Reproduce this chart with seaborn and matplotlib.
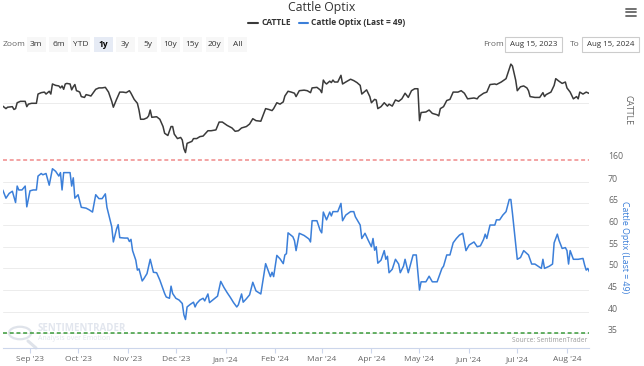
import numpy as np
import pandas as pd
import matplotlib
matplotlib.use("Agg")
import matplotlib.pyplot as plt
from matplotlib.patches import Rectangle, Circle
from matplotlib.lines import Line2D
from matplotlib.transforms import ScaledTranslation
import seaborn as sns

# ---------------- data ----------------
start_date = "2023-08-15"

cattle_day = [
    0, 2, 3, 6, 7, 8, 9, 11, 14, 15,
    16, 18, 21, 22, 24, 26, 27, 29, 30, 31,
    33, 35, 36, 37, 38, 39, 40, 42, 43, 44,
    45, 46, 47, 48, 49, 51, 52, 54, 55, 58,
    60, 62, 64, 66, 68, 69, 70, 71, 73, 75,
    77, 79, 80, 82, 84, 85, 86, 88, 90, 91,
    92, 93, 96, 98, 100, 101, 103, 105, 106, 107,
    109, 111, 112, 113, 114, 115, 118, 119, 121, 123,
    125, 128, 130, 133, 135, 137, 140, 143, 145, 147,
    149, 152, 154, 156, 158, 161, 164, 166, 168, 169,
    171, 173, 175, 176, 178, 180, 182, 183, 185, 188,
    190, 192, 193, 196, 198, 199, 200, 201, 202, 204,
    205, 206, 207, 209, 211, 212, 214, 217, 219, 221,
    223, 224, 227, 229, 230, 232, 233, 234, 236, 238,
    240, 241, 243, 245, 247, 249, 251, 253, 255, 257,
    259, 260, 261, 264, 266, 268, 271, 272, 273, 275,
    277, 279, 281, 284, 286, 288, 290, 294, 296, 297,
    300, 302, 304, 307, 308, 311, 314, 315, 317, 318,
    320, 321, 323, 325, 327, 328, 329, 332, 335, 337,
    338, 339, 342, 344, 345, 347, 349, 351, 352, 354,
    356, 358, 359, 360, 362, 364, 366,
]
cattle_val = [
    179.0, 178.1, 178.6, 178.8, 177.8, 178.1, 180.2, 180.7, 180.7, 178.8,
    179.7, 180.0, 180.0, 183.3, 183.8, 184.0, 183.3, 184.3, 183.3, 186.9,
    186.4, 186.2, 185.5, 186.2, 185.0, 186.9, 187.1, 186.9, 184.8, 185.9,
    186.7, 184.5, 184.3, 184.0, 182.4, 182.1, 183.1, 182.8, 182.6, 185.0,
    185.5, 185.5, 185.7, 184.0, 180.7, 178.6, 180.0, 181.4, 184.0, 184.0,
    183.8, 184.5, 183.6, 181.4, 180.0, 177.6, 174.3, 174.3, 174.8, 175.5,
    177.6, 175.0, 175.2, 174.3, 171.7, 169.3, 168.5, 171.7, 171.7, 169.0,
    167.4, 167.8, 166.9, 163.8, 162.4, 165.7, 166.4, 167.4, 167.4, 168.1,
    168.3, 170.2, 170.2, 170.5, 173.3, 173.3, 172.1, 171.2, 170.0, 170.2,
    171.2, 171.7, 172.6, 174.5, 173.8, 173.6, 178.1, 177.8, 177.4, 178.1,
    180.2, 179.7, 180.5, 182.6, 184.3, 184.0, 183.6, 182.4, 184.5, 184.7,
    184.5, 183.8, 185.5, 185.7, 184.8, 183.8, 188.3, 187.4, 186.9, 187.9,
    187.4, 188.3, 187.6, 187.6, 190.0, 186.9, 187.6, 188.6, 188.1, 187.4,
    186.4, 183.3, 184.8, 182.4, 180.2, 181.4, 181.2, 178.1, 178.8, 180.2,
    179.0, 179.7, 179.0, 181.2, 180.7, 181.6, 183.6, 182.1, 184.5, 185.2,
    185.2, 173.8, 176.7, 176.9, 177.6, 176.4, 175.9, 175.5, 178.1, 178.8,
    181.0, 181.4, 184.0, 184.0, 184.5, 183.6, 181.6, 181.9, 181.6, 182.4,
    183.6, 184.0, 186.7, 186.9, 186.7, 187.6, 188.8, 190.5, 194.0, 193.3,
    188.3, 184.5, 185.9, 186.2, 185.5, 184.5, 182.4, 182.1, 182.1, 183.8,
    182.4, 183.1, 184.0, 186.4, 188.8, 187.9, 187.1, 187.6, 185.5, 184.0,
    181.6, 182.4, 181.6, 184.0, 183.3, 184.0, 183.5,
]

optix_day = [
    0, 2, 4, 6, 8, 9, 10, 12, 14, 15,
    17, 19, 21, 22, 24, 25, 27, 29, 31, 33,
    35, 36, 37, 38, 40, 42, 43, 44, 45, 47,
    49, 52, 54, 56, 58, 60, 62, 64, 65, 68,
    69, 71, 72, 73, 76, 78, 79, 80, 81, 83,
    84, 85, 87, 88, 90, 91, 92, 94, 96, 98,
    101, 102, 104, 105, 106, 108, 110, 112, 113, 114,
    115, 117, 119, 120, 121, 123, 125, 126, 128, 129,
    131, 134, 136, 138, 140, 142, 144, 146, 147, 149,
    150, 152, 154, 156, 158, 161, 164, 167, 168, 169,
    171, 173, 175, 176, 177, 178, 181, 182, 183, 185,
    188, 191, 192, 193, 196, 198, 199, 200, 201, 202,
    204, 205, 206, 209, 211, 212, 214, 217, 219, 220,
    223, 224, 226, 228, 230, 231, 232, 233, 234, 236,
    238, 239, 240, 241, 243, 245, 247, 248, 250, 251,
    253, 256, 258, 260, 261, 264, 266, 268, 271, 274,
    275, 277, 279, 281, 283, 285, 287, 289, 291, 294,
    296, 298, 300, 301, 302, 304, 307, 308, 310, 312,
    314, 316, 317, 318, 321, 323, 325, 328, 330, 332,
    336, 337, 338, 341, 343, 344, 346, 347, 349, 351,
    352, 353, 354, 356, 359, 362, 363, 364, 365, 366,
]
optix_val = [
    68.1, 66.2, 67.3, 67.8, 65.2, 69.0, 68.1, 68.1, 69.0, 64.2,
    67.9, 68.1, 68.1, 71.3, 71.9, 71.6, 71.9, 69.2, 73.0, 72.4,
    71.3, 72.1, 68.1, 72.1, 72.1, 72.1, 69.0, 70.9, 66.2, 67.0,
    64.1, 63.9, 63.5, 63.0, 67.0, 66.1, 66.1, 67.2, 64.1, 59.6,
    56.1, 59.1, 60.1, 57.1, 57.0, 57.0, 56.2, 56.7, 54.1, 51.9,
    49.6, 49.9, 47.1, 47.6, 48.8, 50.4, 52.1, 49.1, 49.0, 47.3,
    44.2, 43.4, 43.1, 45.9, 44.2, 43.1, 42.7, 41.9, 39.3, 38.2,
    41.1, 41.7, 42.2, 41.1, 41.9, 42.7, 43.1, 42.5, 44.1, 42.1,
    42.7, 43.6, 47.0, 45.6, 44.4, 43.3, 42.1, 41.1, 41.6, 44.1,
    42.2, 43.0, 43.9, 46.8, 44.8, 44.1, 51.1, 48.1, 49.1, 48.1,
    53.0, 52.2, 51.1, 53.1, 53.4, 58.2, 57.3, 56.4, 54.1, 58.1,
    57.6, 56.8, 56.1, 61.0, 61.0, 58.8, 58.2, 63.0, 62.1, 61.2,
    63.0, 62.1, 63.1, 63.1, 65.0, 61.0, 62.3, 63.1, 63.1, 61.9,
    60.0, 56.9, 58.1, 56.5, 55.0, 56.9, 54.2, 55.0, 51.2, 51.9,
    54.1, 52.1, 52.8, 49.0, 49.8, 52.1, 51.0, 49.0, 50.5, 52.1,
    49.0, 53.1, 53.1, 45.0, 46.9, 46.9, 48.2, 46.9, 46.9, 50.0,
    50.5, 53.1, 53.1, 55.9, 56.9, 57.7, 58.1, 54.1, 55.4, 56.1,
    55.0, 55.2, 56.7, 57.9, 56.9, 60.0, 60.0, 61.2, 61.2, 62.3,
    63.1, 65.9, 65.9, 62.7, 52.1, 52.5, 54.1, 53.1, 51.0, 51.0,
    50.0, 52.1, 50.0, 50.5, 51.0, 55.9, 57.9, 56.5, 54.6, 54.8,
    54.1, 51.0, 54.1, 52.1, 52.1, 52.3, 50.8, 49.6, 50.0, 49.2,
]

optix_yticks = [35, 40, 45, 50, 55, 60, 65, 70]
cattle_yticks = [160, 180]
cattle_ytick_labels = ["160", ""]
month_ticks = ["2023-09-01", "2023-10-01", "2023-11-01", "2023-12-01",
               "2024-01-01", "2024-02-01", "2024-03-01", "2024-04-01",
               "2024-05-01", "2024-06-01", "2024-07-01", "2024-08-01"]
month_labels = ["Sep '23", "Oct '23", "Nov '23", "Dec '23", "Jan '24", "Feb '24",
                "Mar '24", "Apr '24", "May '24", "Jun '24", "Jul '24", "Aug '24"]
zoom_buttons = ["3m", "6m", "YTD", "1y", "3y", "5y", "10y", "15y", "20y", "All"]
selected_button = "1y"
upper_level = 75
lower_level = 35
title = "Cattle Optix"
cattle_name = "CATTLE"
optix_name = "Cattle Optix (Last = 49)"
from_text = "Aug 15, 2023"
to_text = "Aug 15, 2024"

# ---------------- styling ----------------
W, H = 644, 366
sns.set_theme(style="white")
plt.rcParams['font.family'] = ['Open Sans', 'DejaVu Sans']

BLACK = "#3a3a3a"
BLUE = "#3b7fd9"
GRID = "#ececec"
LABEL = "#666666"

fig = plt.figure(figsize=(W / 100, H / 100), dpi=100)
fig.patch.set_facecolor("white")


def fx(px):
    return px / W


def fy(py):
    return 1 - py / H


x_left, x_right = 2.75, 589.4
top_y0, top_y1 = 60.0, 159.3
bot_y0, bot_y1 = 150.0, 348.0

ax_top = fig.add_axes([fx(x_left), fy(top_y1), (x_right - x_left) / W, (top_y1 - top_y0) / H])
ax_bot = fig.add_axes([fx(x_left), fy(bot_y1), (x_right - x_left) / W, (bot_y1 - bot_y0) / H])
for ax in (ax_top, ax_bot):
    ax.patch.set_alpha(0)
    for s in ax.spines.values():
        s.set_visible(False)

start = pd.Timestamp(start_date)
cattle_df = pd.DataFrame({"date": start + pd.to_timedelta(cattle_day, unit="D"),
                          "value": cattle_val})
optix_df = pd.DataFrame({"date": start + pd.to_timedelta(optix_day, unit="D"),
                         "value": optix_val})
xlim = (start, start + pd.Timedelta(days=366))

# ---- top panel: CATTLE ----
sns.lineplot(data=cattle_df, x="date", y="value", ax=ax_top, color=BLACK,
             linewidth=1.1, estimator=None, zorder=3)
ax_top.set_xlim(*xlim)
ax_top.set_ylim(160, 160 + (top_y1 - top_y0) / 2.8)
ax_top.set_xticks([])
ax_top.set_xlabel("")
ax_top.set_ylabel("")
ax_top.yaxis.tick_right()
ax_top.set_yticks(cattle_yticks)
ax_top.set_yticklabels(cattle_ytick_labels)
ax_top.tick_params(axis="y", length=0, pad=13.4, labelsize=6.3, labelcolor=LABEL)
ax_top.grid(axis="y", color=GRID, linewidth=0.7)
ax_top.grid(axis="x", visible=False)

# ---- bottom panel: Optix ----
sns.lineplot(data=optix_df, x="date", y="value", ax=ax_bot, color=BLUE,
             linewidth=1.1, estimator=None, zorder=3)
ax_bot.set_xlim(*xlim)
ax_bot.set_ylim(35 - (bot_y1 - 333.4) / 4.33, 70 + (181.7 - bot_y0) / 4.33)
ax_bot.set_xlabel("")
ax_bot.set_ylabel("")
ax_bot.yaxis.tick_right()
ax_bot.set_yticks(optix_yticks)
ax_bot.tick_params(axis="y", length=0, pad=13.4, labelsize=6.3, labelcolor=LABEL)
ax_bot.grid(axis="y", color=GRID, linewidth=0.7)
ax_bot.grid(axis="x", visible=False)
ax_bot.axhline(upper_level, color="#f08a8a", linewidth=1.1, linestyle=(0, (2.6, 1.8)), zorder=2)
ax_bot.axhline(lower_level, color="#3a9b3a", linewidth=1.1, linestyle=(0, (2.6, 1.8)), zorder=2)

ax_bot.spines["bottom"].set_visible(True)
ax_bot.spines["bottom"].set_color("#ccd6eb")
ax_bot.spines["bottom"].set_linewidth(0.8)
ax_bot.set_xticks(pd.to_datetime(month_ticks))
ax_bot.set_xticklabels(month_labels)
ax_bot.tick_params(axis="x", bottom=True, direction="out", length=3.6, width=0.8,
                   color="#ccd6eb", labelsize=6.0, labelcolor=LABEL, pad=2.5)

# shift right-axis tick labels slightly upward (as in the reference)
off = ScaledTranslation(0, 0.035, fig.dpi_scale_trans)
for ax in (ax_top, ax_bot):
    for t in ax.yaxis.get_major_ticks():
        t.label2.set_transform(t.label2.get_transform() + off)
        t.label2.set_horizontalalignment("left")

# axis titles on the right
fig.text(fx(628), fy(110), cattle_name, rotation=270, ha="center", va="center",
         fontsize=6.3, color=LABEL)
fig.text(fx(625), fy(247), optix_name, rotation=270, ha="center", va="center",
         fontsize=6.3, color=BLUE)

# ---------------- header ----------------
fig.text(fx(322), fy(7), title, ha="center", va="center", fontsize=8.8, color="#333333")
fig.add_artist(Line2D([fx(248), fx(258)], [fy(22.7), fy(22.7)], color=BLACK, lw=1.5))
fig.text(fx(261), fy(22.7), cattle_name, ha="left", va="center", fontsize=6.0,
         fontweight="bold", color="#333333")
fig.add_artist(Line2D([fx(299), fx(308)], [fy(22.7), fy(22.7)], color=BLUE, lw=1.5))
fig.text(fx(311), fy(22.7), optix_name, ha="left", va="center", fontsize=6.0,
         fontweight="bold", color="#333333")

fig.text(fx(3), fy(44.3), "Zoom", ha="left", va="center", fontsize=6.0, color=LABEL)
for i, lab in enumerate(zoom_buttons):
    left = 26.7 + i * 22.35
    sel = lab == selected_button
    fig.add_artist(Rectangle((fx(left), fy(51.5)), 19 / W, 14 / H,
                             facecolor="#e6ebf5" if sel else "#f7f7f7",
                             edgecolor="none", transform=fig.transFigure))
    fig.text(fx(left + 9.5), fy(44.3), lab, ha="center", va="center", fontsize=6.0,
             color="#000000" if sel else "#333333",
             fontweight="bold" if sel else "normal")

fig.text(fx(483), fy(44.3), "From", ha="left", va="center", fontsize=6.0, color=LABEL)
fig.add_artist(Rectangle((fx(505), fy(52)), 57 / W, 15 / H, facecolor="white",
                         edgecolor="#cccccc", lw=0.8, transform=fig.transFigure))
fig.text(fx(533.5), fy(44.5), from_text, ha="center", va="center", fontsize=5.7, color="#333333")
fig.text(fx(570), fy(44.3), "To", ha="left", va="center", fontsize=6.0, color=LABEL)
fig.add_artist(Rectangle((fx(582), fy(52)), 57 / W, 15 / H, facecolor="white",
                         edgecolor="#cccccc", lw=0.8, transform=fig.transFigure))
fig.text(fx(610.5), fy(44.5), to_text, ha="center", va="center", fontsize=5.7, color="#333333")

for yy in (8.5, 12, 15.5):
    fig.add_artist(Line2D([fx(626), fx(636)], [fy(yy), fy(yy)], color="#666666", lw=1.3))

# ---------------- watermark & source ----------------
fig.add_artist(Circle((fx(20), fy(333)), 11 / W, facecolor="none", edgecolor="#dfe3ea",
                      lw=1.6, transform=fig.transFigure, zorder=-1))
fig.add_artist(Line2D([fx(28), fx(36)], [fy(341), fy(348)], color="#dfe3ea", lw=2.2, zorder=-1))
fig.text(fx(38), fy(328.5), "SENTIMENTRADER", ha="left", va="center", fontsize=7,
         color="#e2e6ee", fontweight="bold", zorder=-1)
fig.text(fx(38), fy(339), "Analysis over Emotion", ha="left", va="center", fontsize=5,
         color="#e2e6ee", zorder=-1)
fig.text(fx(587), fy(341), "Source: SentimenTrader", ha="right", va="center",
         fontsize=4.8, color="#999999")

fig.savefig("out.png", dpi=100, facecolor="white")
